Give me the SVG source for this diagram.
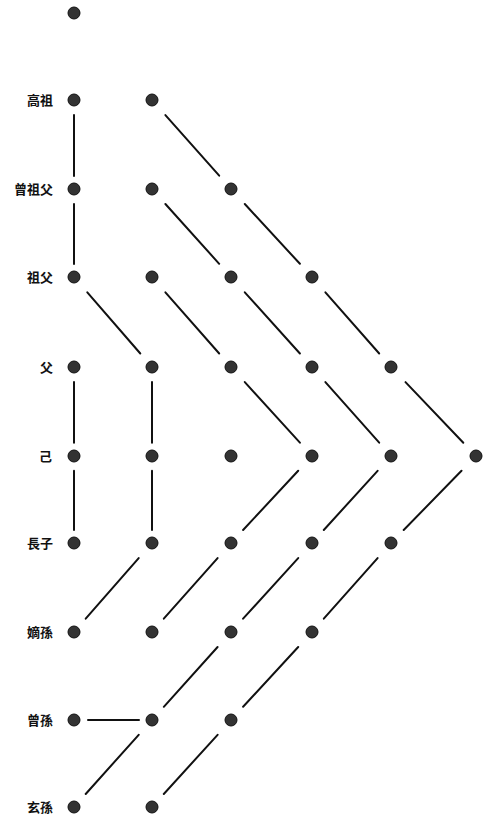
<svg xmlns="http://www.w3.org/2000/svg" width="484" height="820" viewBox="0 0 484 820">
<style>
.d{fill:#333;stroke:#111;stroke-width:1}
.l{stroke:#111;stroke-width:2;stroke-linecap:round;fill:none}
.t{font-family:"Noto Sans CJK TC","Noto Sans CJK SC",sans-serif;font-size:13px;font-weight:bold;fill:#111;text-anchor:end}
</style>
<rect width="484" height="820" fill="#fff"/>
<g id="connectors" class="l">
<line x1="74" y1="115" x2="74" y2="176"/>
<line x1="74" y1="204" x2="74" y2="264"/>
<line x1="165.4" y1="115.1" x2="219.2" y2="175.7"/>
<line x1="165.4" y1="204" x2="219.2" y2="263.8"/>
<line x1="244.8" y1="204" x2="299.9" y2="263.8"/>
<line x1="87.3" y1="292.3" x2="140.3" y2="353.5"/>
<line x1="165.4" y1="292.3" x2="219.2" y2="353.5"/>
<line x1="244.8" y1="292.3" x2="299.9" y2="353.5"/>
<line x1="325.4" y1="292.3" x2="379.2" y2="353.5"/>
<line x1="74" y1="382.1" x2="74" y2="442.7"/>
<line x1="74" y1="470.8" x2="74" y2="530"/>
<line x1="152" y1="382.1" x2="152" y2="442.7"/>
<line x1="152" y1="470.8" x2="152" y2="530"/>
<line x1="244.8" y1="382.1" x2="299.9" y2="442.7"/>
<line x1="325.4" y1="382.1" x2="379.2" y2="442.7"/>
<line x1="405.5" y1="382.1" x2="463.3" y2="442.7"/>
<line x1="298.2" y1="470.8" x2="243.1" y2="530"/>
<line x1="377.6" y1="470.8" x2="323.8" y2="530"/>
<line x1="461.5" y1="470.8" x2="403.7" y2="530"/>
<line x1="138.7" y1="558.1" x2="85.7" y2="618.7"/>
<line x1="217.6" y1="558.1" x2="163.8" y2="618.7"/>
<line x1="298.2" y1="558.1" x2="243.1" y2="618.7"/>
<line x1="377.6" y1="558.1" x2="323.8" y2="618.7"/>
<line x1="217.6" y1="647" x2="163.8" y2="706.8"/>
<line x1="298.2" y1="647" x2="243.1" y2="706.8"/>
<line x1="88" y1="720" x2="139" y2="720"/>
<line x1="138.7" y1="734.8" x2="85.7" y2="794"/>
<line x1="217.6" y1="734.8" x2="163.8" y2="794"/>
</g>
<g id="n0-0"><circle class="d" cx="74" cy="13" r="6"/></g>
<g id="n1-0"><text class="t" x="53" y="105">高祖</text><circle class="d" cx="74" cy="100" r="6"/></g>
<g id="n1-1"><circle class="d" cx="152" cy="100" r="6"/></g>
<g id="n2-0"><text class="t" x="53" y="194">曾祖父</text><circle class="d" cx="74" cy="189" r="6"/></g>
<g id="n2-1"><circle class="d" cx="152" cy="189" r="6"/></g>
<g id="n2-2"><circle class="d" cx="231" cy="189" r="6"/></g>
<g id="n3-0"><text class="t" x="53" y="282">祖父</text><circle class="d" cx="74" cy="277" r="6"/></g>
<g id="n3-1"><circle class="d" cx="152" cy="277" r="6"/></g>
<g id="n3-2"><circle class="d" cx="231" cy="277" r="6"/></g>
<g id="n3-3"><circle class="d" cx="312" cy="277" r="6"/></g>
<g id="n4-0"><text class="t" x="53" y="372">父</text><circle class="d" cx="74" cy="367" r="6"/></g>
<g id="n4-1"><circle class="d" cx="152" cy="367" r="6"/></g>
<g id="n4-2"><circle class="d" cx="231" cy="367" r="6"/></g>
<g id="n4-3"><circle class="d" cx="312" cy="367" r="6"/></g>
<g id="n4-4"><circle class="d" cx="391" cy="367" r="6"/></g>
<g id="n5-0"><text class="t" x="52" y="461">己</text><circle class="d" cx="74" cy="456" r="6"/></g>
<g id="n5-1"><circle class="d" cx="152" cy="456" r="6"/></g>
<g id="n5-2"><circle class="d" cx="231" cy="456" r="6"/></g>
<g id="n5-3"><circle class="d" cx="312" cy="456" r="6"/></g>
<g id="n5-4"><circle class="d" cx="391" cy="456" r="6"/></g>
<g id="n5-5"><circle class="d" cx="476" cy="456" r="6"/></g>
<g id="n6-0"><text class="t" x="53" y="548">長子</text><circle class="d" cx="74" cy="543" r="6"/></g>
<g id="n6-1"><circle class="d" cx="152" cy="543" r="6"/></g>
<g id="n6-2"><circle class="d" cx="231" cy="543" r="6"/></g>
<g id="n6-3"><circle class="d" cx="312" cy="543" r="6"/></g>
<g id="n6-4"><circle class="d" cx="391" cy="543" r="6"/></g>
<g id="n7-0"><text class="t" x="53" y="637">嫡孫</text><circle class="d" cx="74" cy="632" r="6"/></g>
<g id="n7-1"><circle class="d" cx="152" cy="632" r="6"/></g>
<g id="n7-2"><circle class="d" cx="231" cy="632" r="6"/></g>
<g id="n7-3"><circle class="d" cx="312" cy="632" r="6"/></g>
<g id="n8-0"><text class="t" x="53" y="725">曾孫</text><circle class="d" cx="74" cy="720" r="6"/></g>
<g id="n8-1"><circle class="d" cx="152" cy="720" r="6"/></g>
<g id="n8-2"><circle class="d" cx="231" cy="720" r="6"/></g>
<g id="n9-0"><text class="t" x="53" y="812">玄孫</text><circle class="d" cx="74" cy="807" r="6"/></g>
<g id="n9-1"><circle class="d" cx="152" cy="807" r="6"/></g>
</svg>
